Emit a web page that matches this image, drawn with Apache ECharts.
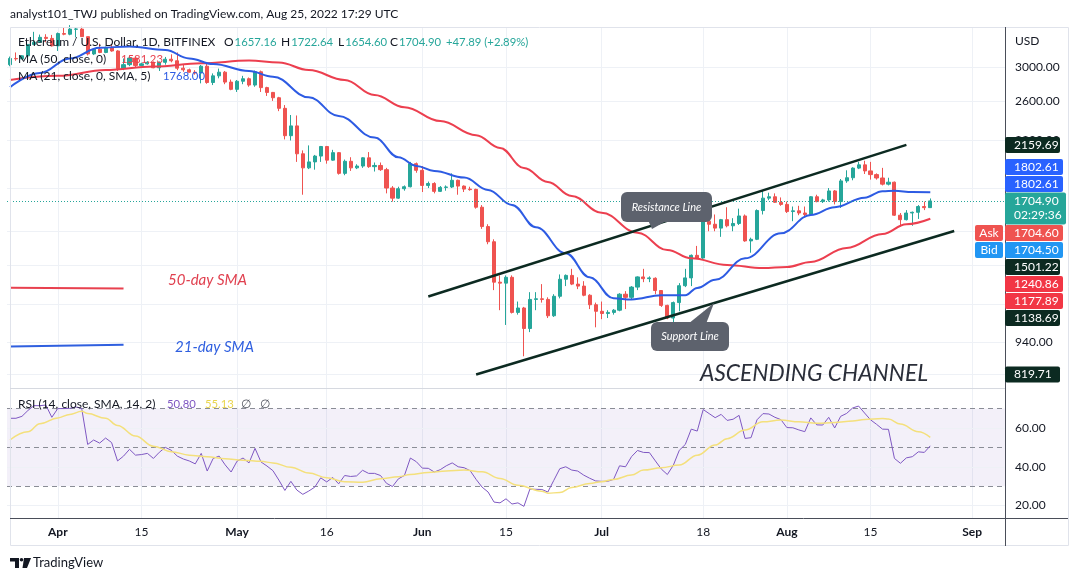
<!DOCTYPE html>
<html>
<head>
<meta charset="utf-8">
<title>ETH/USD 1D</title>
<script src="https://cdn.jsdelivr.net/npm/echarts@6/dist/echarts.min.js"></script>
<style>
  html, body { margin: 0; padding: 0; background: #fff; }
  #chart { width: 1079px; height: 581px; }
</style>
</head>
<body>
<div id="chart"></div>
<script>
// daily candles 24 Mar 2022 -> 25 Aug 2022, axis runs on to 6 Sep
const firstDay = '2022-03-24';
const totalDays = 167;

const opens = [
  3030, 3110, 3105, 3145, 3300, 3330, 3400, 3385, 3280, 3455,
  3445, 3518, 3520, 3410, 3170, 3235, 3190, 3260, 3210, 2980,
  3030, 3115, 3020, 3040, 3060, 2990, 3060, 3100, 3080, 2985,
  2965, 2935, 2925, 3010, 2810, 2890, 2935, 2815, 2730, 2825,
  2855, 2780, 2940, 2750, 2695, 2635, 2520, 2245, 2340, 2080,
  1960, 2010, 2060, 2145, 2025, 2090, 1915, 2015, 1960, 1975,
  2045, 1970, 1980, 1945, 1800, 1725, 1795, 1810, 1995, 1940,
  1820, 1835, 1775, 1805, 1808, 1860, 1815, 1792, 1790, 1660,
  1530, 1435, 1210, 1205, 1235, 1065, 1085, 995, 1125, 1128,
  1125, 1050, 1140, 1225, 1245, 1200, 1190, 1145, 1100, 1070,
  1060, 1065, 1075, 1150, 1135, 1185, 1237, 1228, 1230, 1168,
  1097, 1040, 1110, 1192, 1232, 1355, 1340, 1565, 1545, 1520,
  1575, 1535, 1550, 1600, 1440, 1450, 1637, 1725, 1735, 1695,
  1680, 1630, 1635, 1620, 1610, 1735, 1700, 1712, 1778, 1700,
  1855, 1880, 1958, 1985, 1935, 1905, 1878, 1830, 1845, 1605,
  1575, 1620, 1625, 1665, 1657.16
];
const highs = [
  3135, 3190, 3155, 3300, 3480, 3440, 3445, 3435, 3470, 3550,
  3580, 3550, 3555, 3410, 3250, 3310, 3270, 3305, 3220, 3110,
  3140, 3125, 3055, 3075, 3070, 3070, 3130, 3165, 3190, 3030,
  2980, 2960, 3025, 3040, 2920, 2980, 2950, 2845, 2840, 2890,
  2870, 2955, 2955, 2760, 2700, 2645, 2555, 2450, 2445, 2110,
  2155, 2070, 2150, 2150, 2115, 2095, 2030, 2050, 1990, 2050,
  2095, 2005, 2005, 1960, 1815, 1810, 1820, 2010, 2005, 1975,
  1850, 1845, 1815, 1820, 1915, 1865, 1820, 1810, 1795, 1675,
  1545, 1450, 1245, 1245, 1245, 1115, 1090, 1160, 1160, 1200,
  1135, 1150, 1250, 1250, 1280, 1235, 1215, 1150, 1110, 1115,
  1075, 1080, 1155, 1165, 1190, 1240, 1280, 1240, 1235, 1170,
  1100, 1115, 1205, 1280, 1360, 1410, 1590, 1635, 1610, 1580,
  1660, 1585, 1650, 1610, 1460, 1645, 1780, 1765, 1760, 1730,
  1700, 1665, 1670, 1665, 1740, 1750, 1720, 1800, 1785, 1870,
  1940, 1965, 2010, 2020, 2010, 1915, 1960, 1880, 1850, 1620,
  1640, 1630, 1675, 1700, 1722.64
];
const lows = [
  3010, 3080, 3100, 3130, 3290, 3320, 3330, 3270, 3210, 3430,
  3430, 3400, 3405, 3150, 3155, 3180, 3180, 3200, 2950, 2960,
  3010, 3000, 3010, 3030, 2985, 2950, 3030, 3060, 2960, 2940,
  2930, 2905, 2800, 2795, 2780, 2860, 2790, 2720, 2700, 2790,
  2760, 2760, 2700, 2655, 2600, 2490, 2210, 2200, 2010, 1750,
  1950, 1945, 2010, 1995, 2020, 1905, 1900, 1935, 1950, 1960,
  1960, 1930, 1935, 1760, 1700, 1720, 1780, 1805, 1920, 1770,
  1800, 1760, 1770, 1780, 1800, 1750, 1770, 1780, 1650, 1515,
  1420, 1170, 1075, 1010, 1060, 1055, 885, 980, 1075, 1110,
  1040, 1045, 1130, 1190, 1195, 1175, 1140, 1080, 1000, 1035,
  1040, 1055, 1070, 1080, 1125, 1170, 1210, 1210, 1150, 1090,
  1035, 1005, 1070, 1185, 1190, 1335, 1335, 1500, 1500, 1465,
  1525, 1500, 1540, 1435, 1370, 1445, 1610, 1710, 1690, 1670,
  1620, 1565, 1605, 1595, 1605, 1695, 1690, 1700, 1680, 1655,
  1840, 1860, 1950, 1910, 1865, 1865, 1820, 1820, 1600, 1530,
  1570, 1535, 1580, 1640, 1654.60
];
const closes = [
  3110, 3105, 3145, 3300, 3330, 3400, 3385, 3280, 3455, 3445,
  3520, 3522, 3410, 3170, 3235, 3190, 3260, 3210, 2980, 3030,
  3115, 3020, 3040, 3060, 2990, 3060, 3100, 3080, 2985, 2965,
  2935, 2925, 3010, 2810, 2890, 2935, 2815, 2730, 2825, 2855,
  2780, 2940, 2750, 2695, 2635, 2520, 2245, 2340, 2080, 1960,
  2010, 2060, 2145, 2025, 2090, 1915, 2015, 1960, 1975, 2045,
  1970, 1980, 1945, 1800, 1725, 1795, 1810, 1995, 1940, 1820,
  1835, 1775, 1805, 1808, 1860, 1815, 1792, 1788, 1660, 1530,
  1435, 1210, 1205, 1235, 1065, 1085, 995, 1125, 1128, 1125,
  1050, 1140, 1225, 1245, 1200, 1190, 1145, 1100, 1070, 1060,
  1065, 1075, 1150, 1135, 1185, 1237, 1228, 1232, 1168, 1097,
  1040, 1110, 1192, 1232, 1355, 1340, 1575, 1545, 1520, 1575,
  1535, 1550, 1600, 1440, 1450, 1637, 1725, 1735, 1695, 1680,
  1630, 1635, 1620, 1610, 1735, 1700, 1712, 1778, 1700, 1855,
  1880, 1958, 1985, 1935, 1905, 1878, 1830, 1845, 1605, 1575,
  1620, 1625, 1665, 1657.01, 1704.90
];

// moving averages, [day index, value]
const ma50 = [
  [0, 2840], [8, 2890], [16, 2962], [24, 3006], [32, 3047], [40, 3083], [45, 3058],
  [50, 2962], [56, 2840], [61, 2666], [66, 2532], [72, 2388], [78, 2250], [82, 2132],
  [86, 1959], [90, 1846], [94, 1740], [99, 1622], [105, 1490], [110, 1386], [114, 1338],
  [120, 1301], [126, 1284], [130, 1290], [134, 1318], [140, 1398], [146, 1483],
  [150, 1545], [154, 1581.23]
];
const ma21 = [
  [0, 2755], [5, 2925], [10, 3110], [15, 3255], [20, 3270], [26, 3223], [30, 3110],
  [34, 3038], [40, 2950], [44, 2880], [50, 2640], [55, 2440], [61, 2227], [65, 2050],
  [68, 1976], [71, 1935], [76, 1882], [80, 1786], [84, 1676], [88, 1526], [93, 1367],
  [97, 1235], [101, 1130], [104, 1125], [109, 1145], [113, 1145], [115, 1181],
  [118, 1222], [123, 1338], [129, 1487], [134, 1607], [138, 1660], [143, 1728],
  [146, 1776], [148, 1779], [151, 1770], [154, 1768.00]
];

const rsi = [
  65, 65, 66, 69, 71.5, 71.5, 71.8, 65.5, 70, 70,
  70.1, 70.8, 70.1, 51.5, 53.8, 52.2, 54.8, 52.5, 43, 45.5,
  49, 46, 46.3, 46.9, 44.3, 47.5, 50, 48.5, 45.5, 44,
  43, 41.5, 46.9, 37.8, 44.3, 45.5, 41, 37.3, 42.9, 44.5,
  42, 49.5, 42.5, 40.4, 38, 33.1, 27.8, 32.5, 28, 25.8,
  27.5, 29.5, 34.3, 32.2, 34.5, 31.2, 35.5, 35, 35.3, 38.2,
  36.6, 36.6, 35.5, 31.5, 29.8, 33.8, 35.5, 44.5, 42.6, 39.3,
  39.2, 37.3, 38.5, 40.5, 42, 40, 39.5, 38, 33.5, 29.5,
  27, 21.8, 21.4, 23.5, 20.8, 21.4, 19.6, 28.5, 28.4, 28.3,
  27, 33, 39, 40, 38.3, 37.8, 35.7, 34.1, 32.7, 32.5,
  32.5, 33.5, 40.5, 40, 45.2, 48.4, 47.4, 47.3, 43, 38.8,
  36, 40.8, 48.5, 51.5, 59.4, 58.4, 69.5, 67.4, 65.3, 67,
  63.9, 64.5, 66.5, 54.6, 55, 64.2, 67.4, 67.2, 65.5, 64.3,
  60.2, 60.1, 59, 58.1, 65.2, 61.6, 61.5, 65.5, 60, 66,
  67.5, 70.3, 71.3, 67.7, 64.2, 61.9, 59.4, 59.3, 44.3, 41.8,
  44.6, 45.2, 47.7, 47.4, 50.80
];
const rsiSma = [
  [0, 53.8], [3, 58], [5, 62.2], [8, 65.2], [10, 67], [12, 68.6], [13, 67.4], [16, 65],
  [18, 61.3], [21, 55.8], [24, 50.6], [27, 47.8], [30, 46], [33, 45.2], [36, 44.2],
  [39, 43.4], [42, 42.8], [44, 42], [47, 39.7], [50, 36.8], [53, 34.3], [56, 32.3],
  [59, 32], [62, 33.8], [65, 34.9], [67, 36], [70, 37.1], [73, 37.8], [76, 38.3],
  [79, 37.4], [82, 34], [85, 30.5], [89, 27.4], [90, 26.4], [92, 26.7], [94, 29.3],
  [97, 31.4], [99, 32.3], [101, 33.5], [104, 35.7], [106, 38.3], [109, 39.5],
  [112, 40.9], [115, 46], [118, 51.2], [120, 54.5], [123, 58.9], [126, 63.2],
  [129, 64.1], [132, 63.2], [135, 62.4], [138, 62.8], [141, 63.6], [143, 64.4],
  [146, 64.9], [147, 64.6], [149, 62], [152, 58], [154, 55.13]
];

const xTickDates = ['2022-04-01', '2022-04-15', '2022-05-01', '2022-05-16', '2022-06-01', '2022-06-15',
  '2022-07-01', '2022-07-18', '2022-08-01', '2022-08-15', '2022-09-01'];
const xTickText = ['Apr', '15', 'May', '16', 'Jun', '15', 'Jul', '18', 'Aug', '15', 'Sep'];
const priceLabels = [3000, 2600, 2200, 940];
const priceGrid = [3000, 2600, 2200, 1800, 1500, 1300, 1100, 940, 820];
const rsiLabels = [20, 40, 60];
const rsiBands = [30, 50, 70];

// hand-drawn trend lines, [day index, price]
const upperChannel = [[70, 1138.69], [150, 2159.69]];
const lowerChannel = [[78, 819.71], [158, 1501.22]];
const sma50Key = [[0, 1182], [19, 1177.89]];
const sma21Key = [[0, 922], [19, 929]];

// right-hand price scale tags
const tagValues = [2159.69, 1802.61, 1802.61, 1704.90, 1704.60, 1704.50, 1501.22, 1240.86, 1177.89, 1138.69, 819.71];
const tagKinds = ['line', 'ma', 'ma', 'last', 'ask', 'bid', 'line', 'red', 'red', 'line', 'line'];

const UP = '#26a69a', DOWN = '#ef5350', INK = '#131722', GRID = '#eef1f6';
const FONT = 'Lato, "Open Sans", sans-serif';

const dates = [];
const t0 = Date.parse(firstDay + 'T00:00:00Z');
for (let i = 0; i < totalDays; i++) {
  dates.push(new Date(t0 + i * 86400000).toISOString().slice(0, 10));
}
const candles = opens.map((o, i) => [o, closes[i], lows[i], highs[i]]);
const last = closes.length - 1;

const tickMap = {};
xTickDates.forEach((d, i) => { tickMap[d] = xTickText[i]; });
const onTick = (idx, val) => tickMap[val] !== undefined;
const months = ['Apr', 'May', 'Jun', 'Jul', 'Aug', 'Sep'];

const chart = echarts.init(document.getElementById('chart'));

const xCommon = {
  type: 'category', data: dates, boundaryGap: true,
  axisLine: { show: false }, axisTick: { show: false },
  splitLine: { show: true, interval: onTick, alignWithLabel: true, lineStyle: { color: GRID, width: 1 } }
};

const option = {
  animation: false,
  textStyle: { fontFamily: FONT },
  grid: [
    { left: 7, right: 74, top: 27, height: 361 },
    { left: 7, right: 74, top: 388, height: 130 }
  ],
  xAxis: [
    Object.assign({}, xCommon, { gridIndex: 0, axisLabel: { show: false } }),
    Object.assign({}, xCommon, {
      gridIndex: 1,
      axisLabel: {
        interval: onTick, margin: 8, color: INK, fontSize: 12,
        formatter: v => months.includes(tickMap[v]) ? '{m|' + tickMap[v] + '}' : tickMap[v],
        rich: { m: { fontWeight: 'bold', fontSize: 12, color: INK, fontFamily: FONT } }
      }
    })
  ],
  yAxis: [
    {
      type: 'log', logBase: 10, gridIndex: 0, position: 'right', min: 774.1, max: 3551.7,
      axisLine: { show: false }, axisTick: { show: false }, splitLine: { show: false },
      axisLabel: { customValues: priceLabels, formatter: v => Number(v).toFixed(2), color: INK, fontSize: 12, margin: 10, align: 'left' }
    },
    {
      type: 'value', gridIndex: 1, position: 'right', min: 13.6, max: 80.6,
      axisLine: { show: false }, axisTick: { show: false }, splitLine: { show: false },
      axisLabel: { customValues: rsiLabels, formatter: v => Number(v).toFixed(2), color: INK, fontSize: 12, margin: 10, align: 'left' }
    }
  ],
  series: [
    {
      type: 'candlestick', name: 'ETHUSD', xAxisIndex: 0, yAxisIndex: 0,
      data: candles, barWidth: 3.6, z: 2,
      itemStyle: { color: UP, color0: DOWN, borderColor: UP, borderColor0: DOWN, borderWidth: 1 },
      markLine: {
        silent: true, symbol: 'none', z: 4, label: { show: false },
        lineStyle: { type: 'solid' },
        data: [
          { yAxis: closes[last], lineStyle: { color: UP, type: [1, 2], width: 1 } },
          [{ coord: upperChannel[0], lineStyle: { color: '#0c2a21', width: 2.5, type: 'solid' } }, { coord: upperChannel[1] }],
          [{ coord: lowerChannel[0], lineStyle: { color: '#0c2a21', width: 2.5, type: 'solid' } }, { coord: lowerChannel[1] }],
          [{ coord: sma50Key[0], lineStyle: { color: '#e8414f', width: 2, type: 'solid' } }, { coord: sma50Key[1] }],
          [{ coord: sma21Key[0], lineStyle: { color: '#2f5fdf', width: 2, type: 'solid' } }, { coord: sma21Key[1] }]
        ]
      }
    },
    {
      type: 'line', name: 'MA50', xAxisIndex: 0, yAxisIndex: 0, data: ma50,
      smooth: 0.4, smoothMonotone: 'x', symbol: 'none', z: 3,
      lineStyle: { color: '#ec3f4f', width: 2 },
      markLine: {
        silent: true, symbol: 'none', z: 1, label: { show: false },
        lineStyle: { color: GRID, width: 1, type: 'solid' },
        data: priceGrid.map(v => ({ yAxis: v }))
      }
    },
    {
      type: 'line', name: 'MA21', xAxisIndex: 0, yAxisIndex: 0, data: ma21,
      smooth: 0.4, smoothMonotone: 'x', symbol: 'none', z: 3,
      lineStyle: { color: '#2d5be3', width: 2 }
    },
    {
      type: 'line', name: 'RSI', xAxisIndex: 1, yAxisIndex: 1, data: rsi,
      symbol: 'none', z: 3, lineStyle: { color: '#7e57c2', width: 1 },
      markArea: {
        silent: true, z: 1,
        itemStyle: { color: 'rgba(126,87,194,0.09)' },
        data: [[{ yAxis: rsiBands[0] }, { yAxis: rsiBands[2] }]]
      },
      markLine: {
        silent: true, symbol: 'none', z: 1, label: { show: false },
        data: rsiLabels.map(v => ({ yAxis: v, lineStyle: { color: GRID, width: 1, type: 'solid' } }))
          .concat(rsiBands.map(v => ({ yAxis: v, lineStyle: { color: '#8a8d96', width: 1, type: [5, 4] } })))
      }
    },
    {
      type: 'line', name: 'RSI SMA', xAxisIndex: 1, yAxisIndex: 1, data: rsiSma,
      smooth: 0.4, smoothMonotone: 'x', symbol: 'none', z: 3,
      lineStyle: { color: '#f4e07c', width: 1.5 }
    }
  ]
};
chart.setOption(option);

// ---- overlay: frame, legends, drawings, price tags ----
const g = [];
const txt = (x, y, text, extra) => g.push({
  type: 'text', z: 120, silent: true,
  style: Object.assign({ x, y, text, fill: INK, font: '12px ' + FONT, verticalAlign: 'middle' }, extra || {})
});
const line = (x1, y1, x2, y2, stroke, w) => g.push({
  type: 'line', z: 90, silent: true,
  shape: { x1, y1, x2, y2 }, style: { stroke, lineWidth: w || 1 }
});

// frame
g.push({ type: 'rect', z: 90, silent: true, shape: { x: 10.5, y: 27.5, width: 1058, height: 518 },
  style: { fill: null, stroke: '#e0e3eb', lineWidth: 1 } });
line(10, 388.5, 1005, 388.5, '#d6d9e0', 1);
line(10, 518.5, 1068, 518.5, '#4a4e59', 1);
line(1005.5, 27, 1005.5, 546, '#4a4e59', 1);

// header
txt(10, 14, 'analyst101_TWJ published on TradingView.com, Aug 25, 2022 17:29 UTC');
txt(1015, 41, 'USD');

// legends
const chg = closes[last] - closes[last - 1];
const pct = chg / closes[last - 1] * 100;
const vf = v => v.toFixed(2);
const SMALL = '11.3px ' + FONT;
const pair = (x, y, key, val, col) => g.push({
  type: 'text', z: 120, silent: true,
  style: {
    x, y, verticalAlign: 'middle', font: SMALL, fill: INK,
    text: '{k|' + key + '}{v|' + val + '}',
    rich: { k: { fill: INK, font: '12px ' + FONT, padding: [0, 1, 0, 0] }, v: { fill: col, font: SMALL } }
  }
});
txt(18, 42, 'Ethereum / U.S. Dollar, 1D, BITFINEX');
pair(224, 42, 'O', vf(opens[last]), UP);
pair(281, 42, 'H', vf(highs[last]), UP);
pair(338, 42, 'L', vf(lows[last]), UP);
pair(390, 42, 'C', vf(closes[last]), UP);
txt(446, 42, '+' + vf(chg) + ' (+' + vf(pct) + '%)', { fill: UP, font: SMALL });

txt(18, 59, 'MA (50, close, 0)');
txt(121, 59, vf(ma50[ma50.length - 1][1]), { fill: '#e8414f', font: SMALL });
txt(18, 76, 'MA (21, close, 0, SMA, 5)');
txt(163, 76, vf(ma21[ma21.length - 1][1]), { fill: '#2d5be3', font: SMALL });

txt(18, 404, 'RSI (14, close, SMA, 14, 2)');
txt(167, 404, vf(rsi[last]), { fill: '#7e57c2', font: SMALL });
txt(205, 404, vf(rsiSma[rsiSma.length - 1][1]), { fill: '#e9d54e', font: SMALL });
txt(241, 404, '\u2205', { fill: '#50535e' });
txt(260, 404, '\u2205', { fill: '#50535e' });

// drawing labels
txt(168, 280, '50-day SMA', { font: 'italic 15px ' + FONT, fill: '#e0404f' });
txt(175, 347, '21-day SMA', { font: 'italic 15px ' + FONT, fill: '#2f5fdf' });
txt(700, 374, 'ASCENDING CHANNEL', { font: 'italic 22.8px ' + FONT, fill: '#2a2e39' });

const callout = (x, y, w, h, tail, label) => {
  g.push({ type: 'polygon', z: 95, silent: true, shape: { points: tail }, style: { fill: '#5d626d' } });
  g.push({ type: 'rect', z: 95, silent: true, shape: { x, y, width: w, height: h, r: 6 }, style: { fill: '#5d626d' } });
  txt(x + w / 2, y + h / 2, label, { font: 'italic 11px ' + FONT, fill: '#ffffff', align: 'center' });
};
callout(621, 192, 91, 30, [[648, 220], [668, 220], [652, 229]], 'Resistance Line');
callout(651, 322, 78, 29, [[688, 324], [714, 303], [706, 324]], 'Support Line');

// TradingView logo
g.push({ type: 'polygon', z: 100, silent: true, shape: { points: [[10, 558], [19, 558], [19, 568], [15, 568], [15, 561.5], [10, 561.5]] }, style: { fill: INK } });
g.push({ type: 'circle', z: 100, silent: true, shape: { cx: 21.5, cy: 559.8, r: 1.8 }, style: { fill: INK } });
g.push({ type: 'polygon', z: 100, silent: true, shape: { points: [[24, 558], [31, 558], [27, 568], [22.5, 568]] }, style: { fill: INK } });
txt(33, 563, 'TradingView', { font: '13px ' + FONT });

// price tags stacked the way the price scale does it
const tagColor = { line: '#0c2a21', ma: '#2962ff', last: UP, ask: DOWN, bid: '#2196f3', red: '#f23645' };
const TAG_H = 17;
const ys = tagValues.map(v => chart.convertToPixel({ yAxisIndex: 0 }, v));
const anchor = tagKinds.indexOf('last');
const cy = ys.slice();
let edge = ys[anchor] - 8.5;
for (let i = anchor - 1; i >= 0; i--) {
  cy[i] = Math.min(ys[i], edge - TAG_H / 2);
  edge = cy[i] - TAG_H / 2;
}
edge = ys[anchor] + 23.5;
for (let i = anchor + 1; i < tagValues.length; i++) {
  cy[i] = Math.max(ys[i], edge + TAG_H / 2);
  edge = cy[i] + TAG_H / 2;
}
tagValues.forEach((v, i) => {
  const kind = tagKinds[i];
  const col = tagColor[kind];
  if (kind === 'last') {
    g.push({ type: 'rect', z: 110, silent: true, shape: { x: 1005, y: cy[i] - 8.5, width: 61, height: 32, r: 2 }, style: { fill: col } });
    txt(1014, cy[i], v.toFixed(2), { fill: '#fff' });
    txt(1014, cy[i] + 14, '02:29:36', { fill: '#fff' });
    return;
  }
  const w = kind === 'line' ? 55 : 58;
  g.push({ type: 'rect', z: 110, silent: true, shape: { x: 1005, y: cy[i] - 8, width: w, height: 16, r: 2 }, style: { fill: col } });
  txt(1014, cy[i], v.toFixed(2), { fill: '#fff' });
  if (kind === 'ask' || kind === 'bid') {
    g.push({ type: 'rect', z: 110, silent: true, shape: { x: 975, y: cy[i] - 8, width: 28, height: 16, r: 2 }, style: { fill: col } });
    txt(989, cy[i], kind === 'ask' ? 'Ask' : 'Bid', { fill: '#fff', align: 'center' });
  }
});

chart.setOption({ graphic: { elements: g } });
</script>
</body>
</html>
